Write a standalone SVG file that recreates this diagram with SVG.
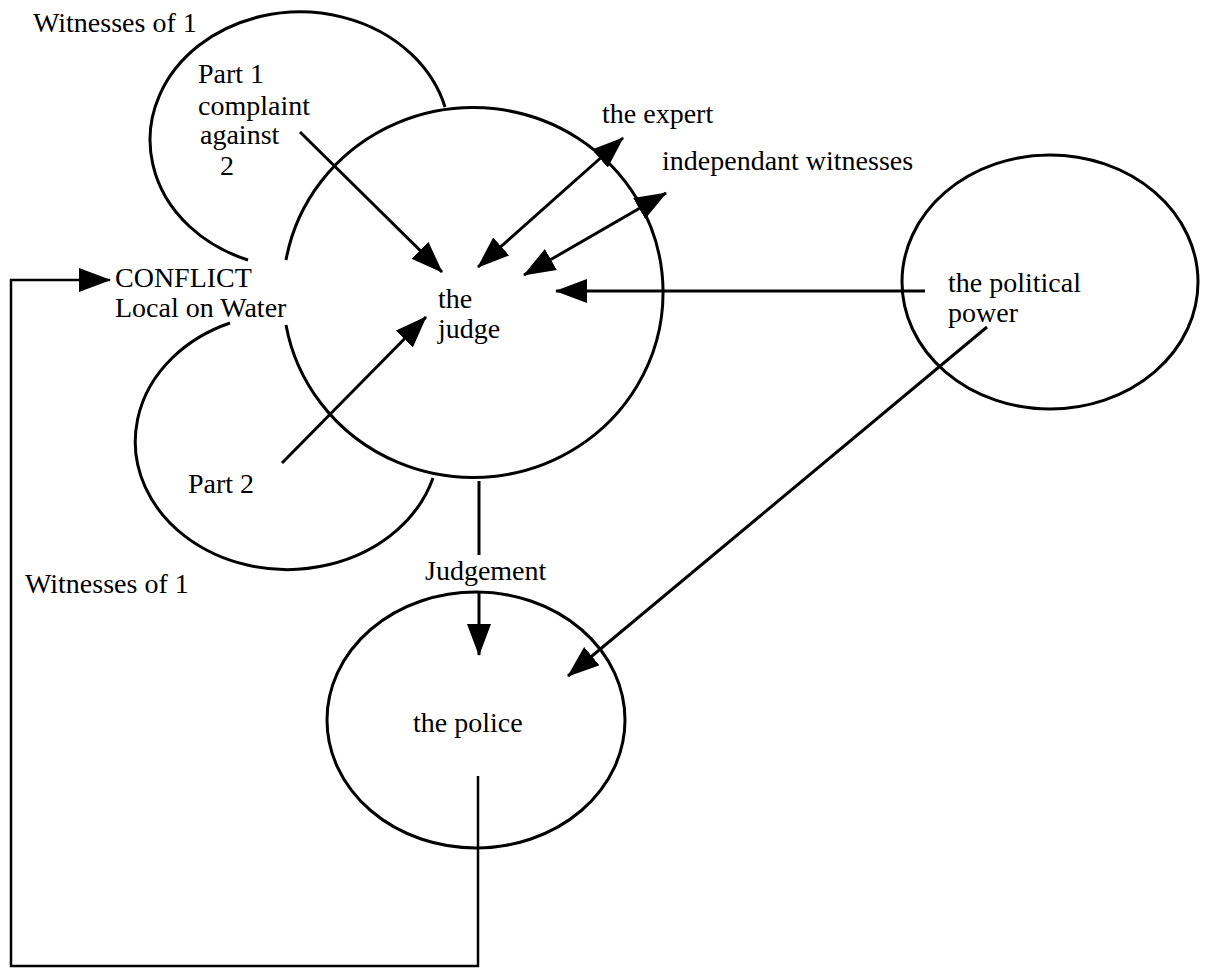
<svg xmlns="http://www.w3.org/2000/svg" width="1205" height="968" viewBox="0 0 1205 968">
<style>
.shape{fill:none;stroke:#000;stroke-width:3}
.conn{fill:none;stroke:#000;stroke-width:3}
.loop{fill:none;stroke:#000;stroke-width:2.5}
text{font-family:"Liberation Serif","Times New Roman",serif;font-size:28px;fill:#000}
</style>
<defs>
<marker id="ah" viewBox="0 0 32 24" markerUnits="userSpaceOnUse" markerWidth="32" markerHeight="24" refX="31" refY="12" orient="auto-start-reverse">
<path d="M0,0 L32,12 L0,24 z" fill="#000"/>
</marker>
</defs>
<rect width="1205" height="968" fill="#fff"/>
<g id="part1">
<path class="shape" d="M 248 260 A 150 128 0 1 1 445 107"/>
<text x="33" y="32">Witnesses of 1</text>
<text x="198" y="83">Part 1</text>
<text x="198" y="115">complaint</text>
<text x="200" y="144">against</text>
<text x="220" y="175">2</text>
</g>
<g id="judge">
<path class="shape" d="M 286 260 A 190 185 0 1 1 286 325"/>
<text x="438" y="308">the</text>
<text x="438" y="338">judge</text>
</g>
<g id="conflict">
<text x="115" y="287">CONFLICT</text>
<text x="115" y="317">Local on Water</text>
</g>
<g id="part2">
<path class="shape" d="M 230 323 A 152 128 0 1 0 433 478"/>
<text x="188" y="493">Part 2</text>
<text x="25" y="593">Witnesses of 1</text>
</g>
<g id="expert">
<text x="602" y="123">the expert</text>
</g>
<g id="independent">
<text x="662" y="170">independant witnesses</text>
</g>
<g id="political">
<ellipse class="shape" cx="1050" cy="282" rx="148" ry="127"/>
<text x="948" y="292">the political</text>
<text x="948" y="322">power</text>
</g>
<g id="police">
<ellipse class="shape" cx="476" cy="720" rx="149" ry="128"/>
<text x="413" y="732">the police</text>
</g>
<g id="judgement-label">
<text x="425" y="580">Judgement</text>
</g>
<g id="connectors">
<line class="conn" x1="300" y1="132" x2="442" y2="272" marker-end="url(#ah)"/>
<line class="conn" x1="282" y1="463" x2="426" y2="317" marker-end="url(#ah)"/>
<line class="conn" x1="478" y1="267" x2="623" y2="138" marker-start="url(#ah)" marker-end="url(#ah)"/>
<line class="conn" x1="524" y1="275" x2="666" y2="193" marker-start="url(#ah)" marker-end="url(#ah)"/>
<line class="conn" x1="925" y1="291" x2="556" y2="291" marker-end="url(#ah)"/>
<line class="conn" x1="987" y1="327" x2="568" y2="676" marker-end="url(#ah)"/>
<line class="conn" x1="479" y1="481" x2="479" y2="555"/>
<line class="conn" x1="479" y1="592" x2="479" y2="655" marker-end="url(#ah)"/>
<path class="loop" d="M 478 776 L 478 966 L 11 966 L 11 280 L 110 280" marker-end="url(#ah)"/>
</g>
</svg>
